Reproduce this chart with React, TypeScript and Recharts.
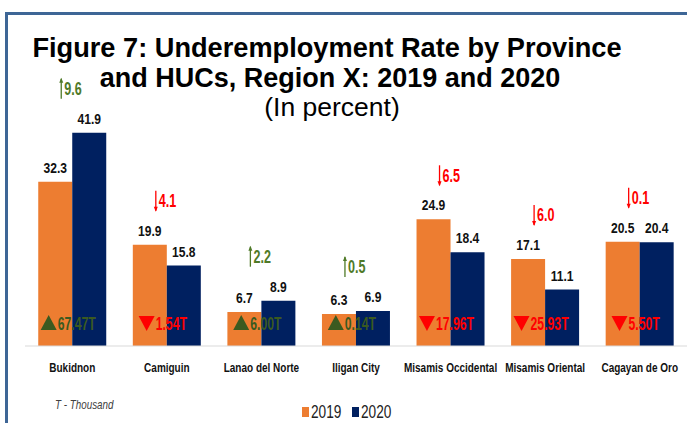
import { BarChart, Bar, XAxis, YAxis, LabelList, Legend } from 'recharts'

const categories = [
  'Bukidnon',
  'Camiguin',
  'Lanao del Norte',
  'Iligan City',
  'Misamis Occidental',
  'Misamis Oriental',
  'Cagayan de Oro'
]
const rate2019 = [32.3, 19.9, 6.7, 6.3, 24.9, 17.1, 20.5]
const rate2020 = [41.9, 15.8, 8.9, 6.9, 18.4, 11.1, 20.4]
// percentage-point change 2019 -> 2020
const rateChange = [9.6, -4.1, 2.2, 0.5, -6.5, -6.0, -0.1]
// change in underemployed persons, thousands
const personsChange = [67.47, -1.54, 6.0, 0.14, -17.96, -25.93, -5.5]

const data = categories.map((name, i) => ({
  name,
  y2019: rate2019[i],
  y2020: rate2020[i]
}))

const ORANGE = '#ED7D31'
const NAVY = '#002060'
const GREEN = '#4F7A28'
const DARK_GREEN = '#3B5A20'
const RED = '#FF0000'
const ARIAL = "'Liberation Sans', Arial, sans-serif"

// no narrow font installed, so squeeze Liberation Sans horizontally
const NText = ({ x, y, sx = 0.82, anchor = 'start', children, ...rest }: any) => (
  <g transform={`translate(${x},${y}) scale(${sx},1)`}>
    <text x={0} y={0} textAnchor={anchor} fontFamily={ARIAL} {...rest}>
      {children}
    </text>
  </g>
)

const CategoryTick = ({ x, y, payload }: any) => (
  <NText x={x} y={y + 26} anchor="middle" sx={0.8} fontWeight="bold" fontSize={12.5} fill="#111">
    {payload.value}
  </NText>
)

const ValueLabel = ({ x, y, width, value }: any) => (
  <NText x={x + width / 2} y={y - 9} anchor="middle" sx={0.78} fontWeight="bold" fontSize={15.5} fill="#111">
    {value}
  </NText>
)

const textW = (s: string, size: number, sx: number) => {
  let w = 0
  for (const ch of s) w += ch === '.' ? 0.278 : ch === 'T' ? 0.611 : 0.556
  return w * size * sx
}

// arrow + change in rate above the taller bar, triangle + persons near the base
const ChangeLabels = (props: any) => {
  const { x, y, height, index } = props
  const v20 = rate2020[index]
  const v19 = rate2019[index]
  const scale = height / v20
  const base = y + height
  const cx = x
  const top = base - Math.max(v19, v20) * scale
  const rc = rateChange[index]
  const up = rc >= 0
  const col = up ? GREEN : RED
  const ty = top - 44
  const pc = personsChange[index]
  const pUp = pc >= 0
  const pCol = pUp ? DARK_GREEN : RED
  const pText = Math.abs(pc).toFixed(2) + 'T'
  const groupW = 17 + textW(pText, 17.5, 0.7)
  const gx = cx - 4 - groupW / 2
  const by = base - 23
  return (
    <g>
      <line x1={cx - 11} x2={cx - 11} y1={ty - 10} y2={ty + 10} stroke={col} strokeWidth={1.3} />
      {up ? (
        <path d={`M${cx - 13},${ty - 6} L${cx - 11},${ty - 11} L${cx - 9},${ty - 6} Z`} fill={col} />
      ) : (
        <path d={`M${cx - 13},${ty + 6} L${cx - 11},${ty + 11} L${cx - 9},${ty + 6} Z`} fill={col} />
      )}
      <NText x={cx - 8} y={ty + 6.5} sx={0.72} fontWeight="bold" fontSize={17.5} fill={col}>
        {Math.abs(rc).toFixed(1)}
      </NText>
      {pUp ? (
        <path d={`M${gx},${by + 7} L${gx + 8},${by - 8} L${gx + 16},${by + 7} Z`} fill={pCol} />
      ) : (
        <path d={`M${gx},${by - 7} L${gx + 8},${by + 8} L${gx + 16},${by - 7} Z`} fill={pCol} />
      )}
      <NText x={gx + 17} y={by + 6.5} sx={0.7} fontWeight="bold" fontSize={17.5} fill={pCol}>
        {pText}
      </NText>
    </g>
  )
}

const LegendContent = () => (
  <svg width={100} height={22}>
    <rect x={1} y={6} width={7} height={10} fill={ORANGE} />
    <NText x={10} y={17} sx={0.76} fontSize={18} fill="#222">2019</NText>
    <rect x={51} y={6} width={7} height={10} fill={NAVY} />
    <NText x={60} y={17} sx={0.76} fontSize={18} fill="#222">2020</NText>
  </svg>
)

const App = () => {
  return (
    <div style={{ position: 'absolute', left: 0, top: 0, width: 687, height: 423, background: '#fff' }}>
      <BarChart
        width={687}
        height={423}
        data={data}
        margin={{ top: 117, right: 0, left: 25, bottom: 47 }}
        barGap={0}
        barCategoryGap="14%"
      >
        <XAxis
          dataKey="name"
          tickLine={false}
          tickSize={0}
          tickMargin={0}
          height={30}
          axisLine={{ stroke: '#D9D9D9' }}
          tick={<CategoryTick />}
          interval={0}
        />
        <YAxis hide domain={[0, 45]} />
        <Legend
          layout="horizontal"
          verticalAlign="middle"
          align="center"
          content={<LegendContent />}
          wrapperStyle={{ top: 401, left: 301, width: 100 }}
        />
        <Bar dataKey="y2019" name="2019" fill={ORANGE} isAnimationActive={false}>
          <LabelList dataKey="y2019" content={<ValueLabel />} />
        </Bar>
        <Bar dataKey="y2020" name="2020" fill={NAVY} isAnimationActive={false}>
          <LabelList dataKey="y2020" content={<ValueLabel />} />
          <LabelList dataKey="y2020" content={<ChangeLabels />} />
        </Bar>
      </BarChart>
      <svg
        width={687}
        height={423}
        style={{ position: 'absolute', left: 0, top: 0, pointerEvents: 'none' }}
      >
        <line x1={5} x2={687} y1={13.5} y2={13.5} stroke="#3E6696" strokeWidth={3} />
        <line x1={6.5} x2={6.5} y1={12} y2={423} stroke="#3E6696" strokeWidth={3} />
        <text x={327} y={57} textAnchor="middle" fontFamily={ARIAL} fontWeight="bold" fontSize={27.2} fill="#000">
          Figure 7: Underemployment Rate by Province
        </text>
        <text x={330} y={87} textAnchor="middle" fontFamily={ARIAL} fontWeight="bold" fontSize={27} fill="#000">
          and HUCs, Region X: 2019 and 2020
        </text>
        <text x={332} y={116} textAnchor="middle" fontFamily={ARIAL} fontSize={26.5} fill="#000">
          (In percent)
        </text>
        <NText x={55} y={409} sx={0.82} fontStyle="italic" fontSize={12} fill="#404040">
          T - Thousand
        </NText>
      </svg>
    </div>
  )
}

export default App
